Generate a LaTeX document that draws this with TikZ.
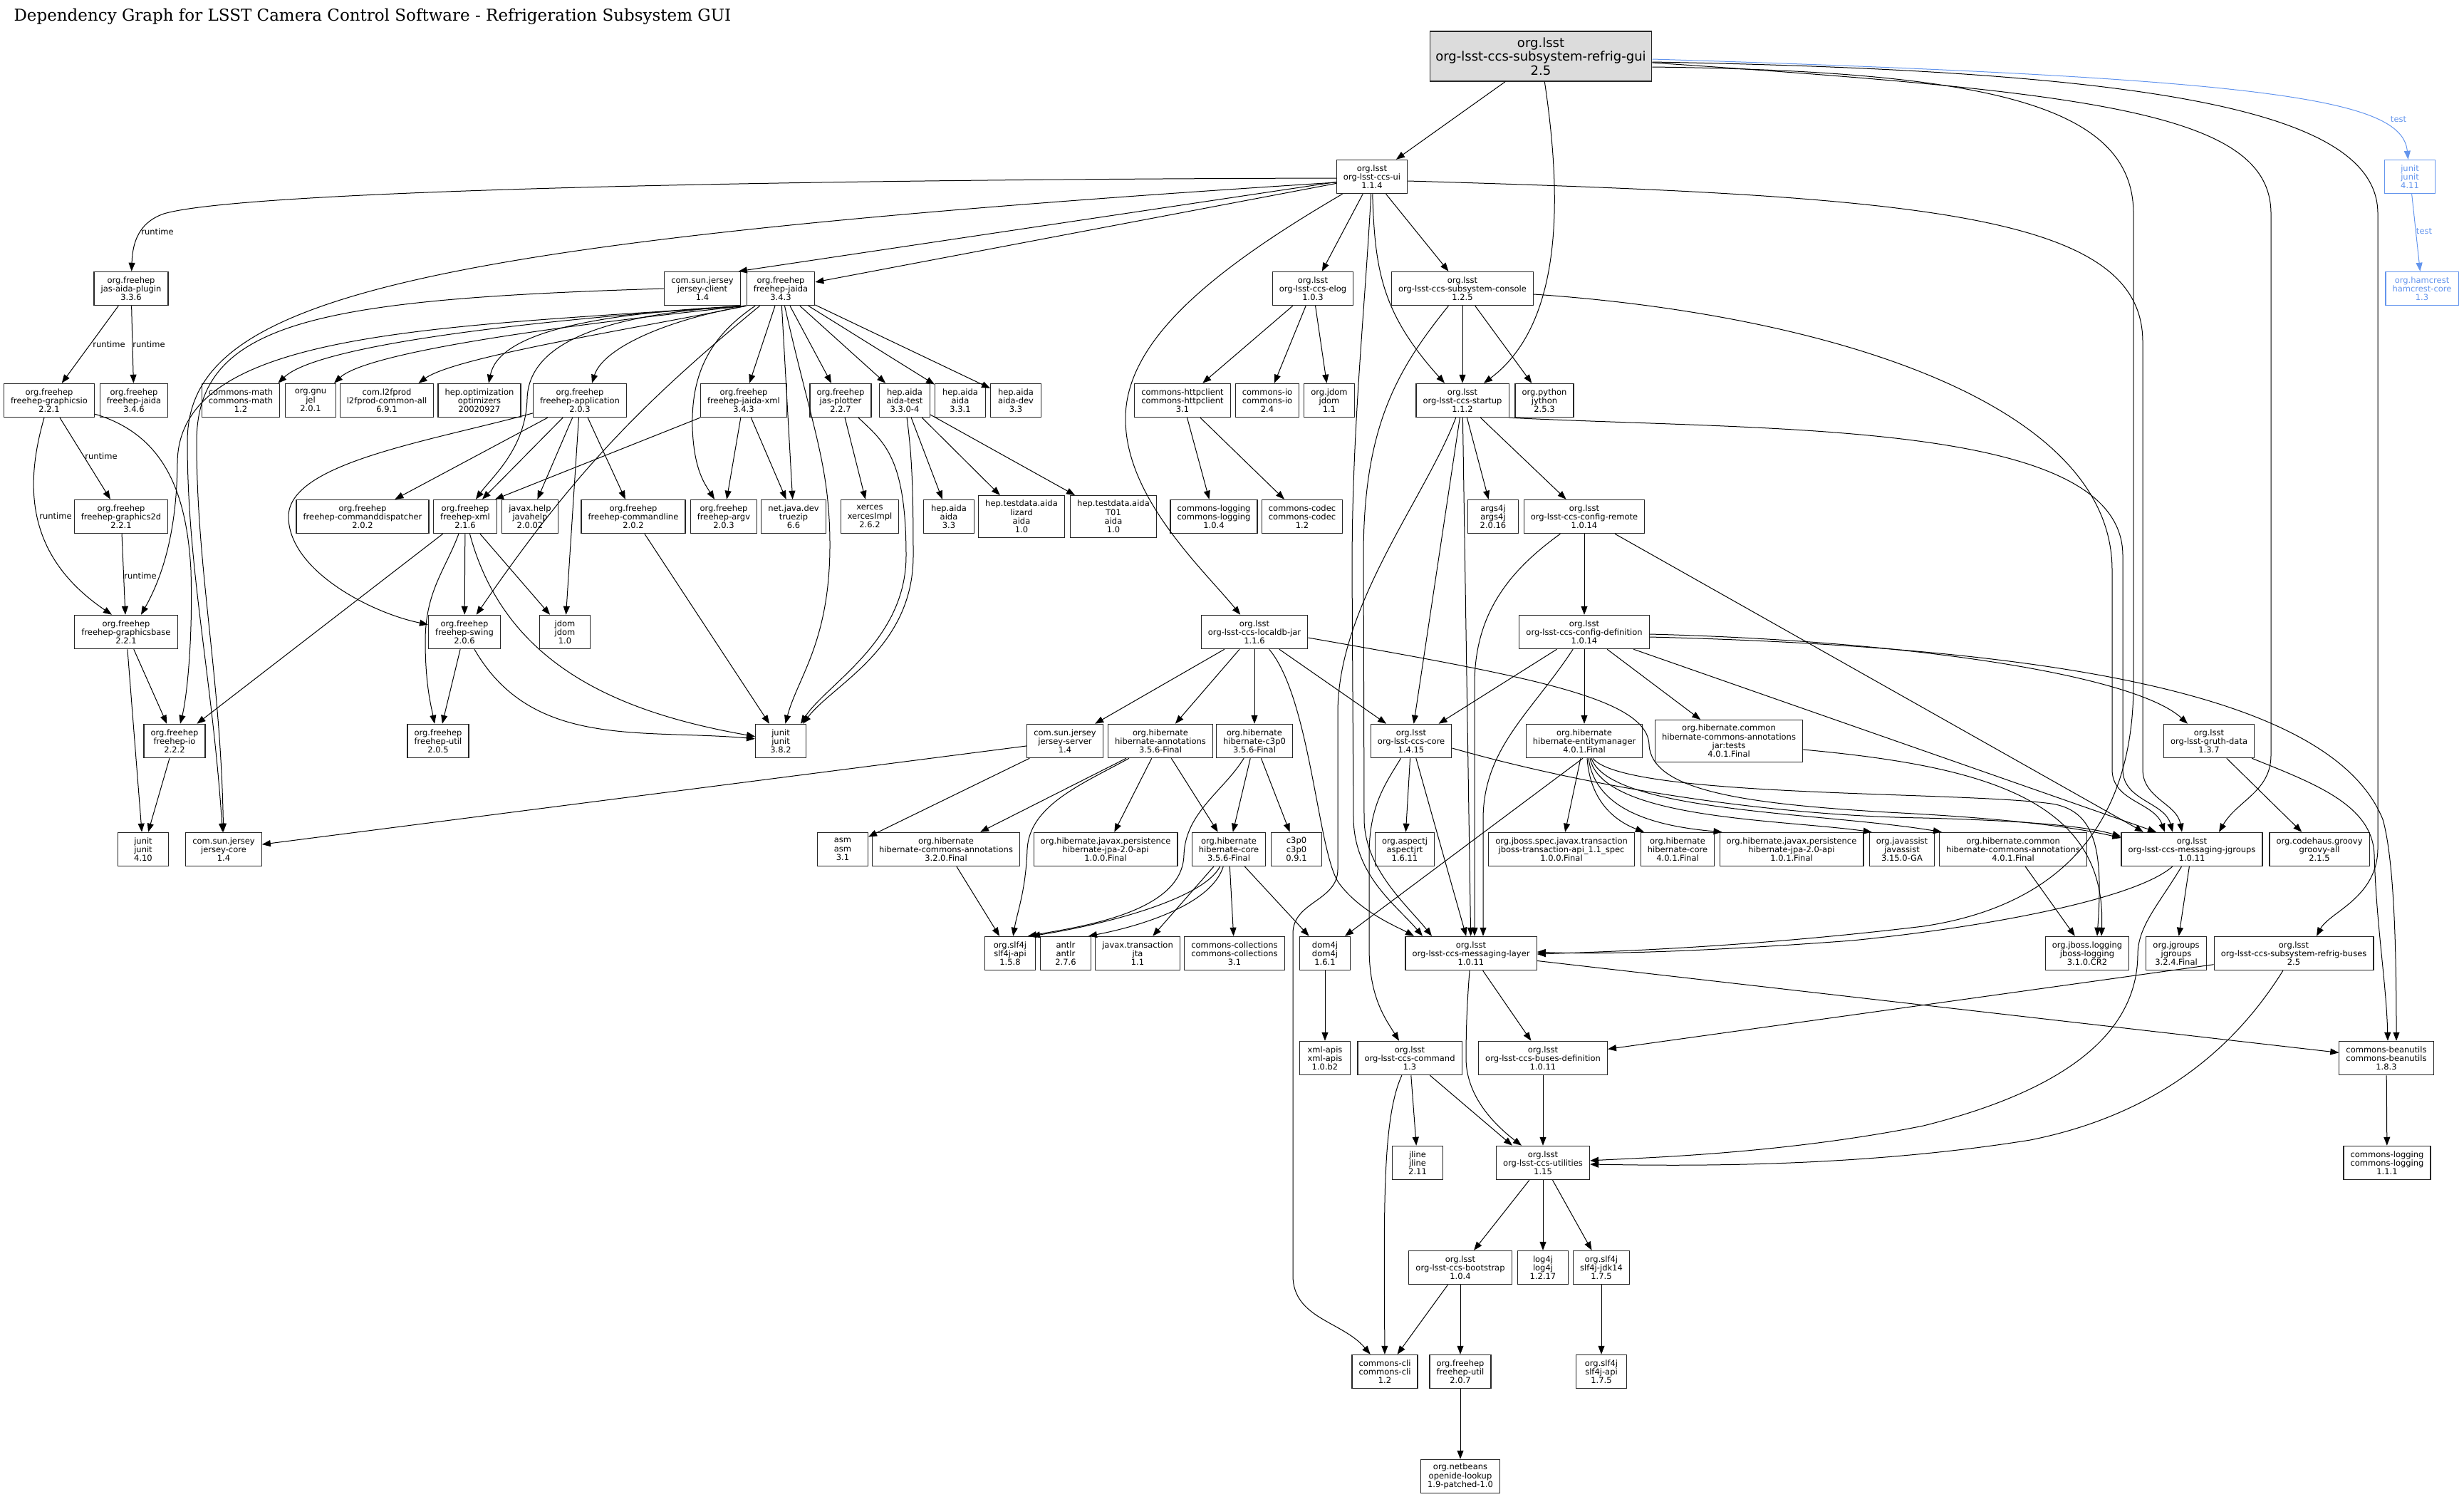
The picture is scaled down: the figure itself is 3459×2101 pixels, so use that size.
\documentclass[tikz,border=0pt]{standalone}
\usepackage{fontspec}
\setmainfont{DejaVu Sans}
\newfontfamily\titlefont{DejaVu Serif}
\usetikzlibrary{arrows.meta}
\definecolor{testblue}{RGB}{100,149,237}
\definecolor{rootgray}{RGB}{220,220,220}

\begin{document}
\begin{tikzpicture}[x=1pt, y=1pt,
    pkg/.style={draw=black!85, line width=1.2pt, align=center, minimum width=70.8pt, minimum height=47.3pt, inner xsep=9.6pt, inner ysep=2pt, font=\fontsize{11.5}{12.2}\selectfont},
    tallpkg/.style={pkg, minimum height=58.8pt},
    rootpkg/.style={pkg, fill=rootgray, minimum height=69.8pt, inner xsep=8pt, font=\fontsize{18}{19.7}\selectfont},
    testpkg/.style={pkg, draw=testblue, text=testblue},
    dep/.style={-{Triangle[length=12pt, width=9pt]}, line width=1pt},
    testdep/.style={dep, color=testblue},
    lbl/.style={inner sep=1pt, font=\fontsize{11.5}{12.2}\selectfont}]
\useasboundingbox (0,0) rectangle (3459,-2101);
\node[anchor=base west, font=\titlefont\fontsize{23}{28}\selectfont] (title) at (16,-30) {Dependency Graph for LSST Camera Control Software - Refrigeration Subsystem GUI};

\node[rootpkg] (refriggui) at (2163,-79) {org.lsst\\org-lsst-ccs-subsystem-refrig-gui\\2.5};
\node[pkg] (ccsui) at (1926,-248) {org.lsst\\org-lsst-ccs-ui\\1.1.4};
\node[testpkg] (junitnew) at (3383,-248) {junit\\junit\\4.11};
\node[pkg] (jasplugin) at (184,-405) {org.freehep\\jas-aida-plugin\\3.3.6};
\node[pkg] (jerseyclient) at (986,-405) {com.sun.jersey\\jersey-client\\1.4};
\node[pkg] (jaida) at (1096,-405) {org.freehep\\freehep-jaida\\3.4.3};
\node[pkg] (elog) at (1843,-405) {org.lsst\\org-lsst-ccs-elog\\1.0.3};
\node[pkg] (console) at (2053,-405) {org.lsst\\org-lsst-ccs-subsystem-console\\1.2.5};
\node[testpkg] (hamcrest) at (3400,-405) {org.hamcrest\\hamcrest-core\\1.3};
\node[pkg] (graphicsio) at (69,-562) {org.freehep\\freehep-graphicsio\\2.2.1};
\node[pkg] (jaidaold) at (188,-562) {org.freehep\\freehep-jaida\\3.4.6};
\node[pkg] (cmath) at (338,-562) {commons-math\\commons-math\\1.2};
\node[pkg] (jel) at (436,-562) {org.gnu\\jel\\2.0.1};
\node[pkg] (ltwofprod) at (543,-562) {com.l2fprod\\l2fprod-common-all\\6.9.1};
\node[pkg] (optimizers) at (673,-562) {hep.optimization\\optimizers\\20020927};
\node[pkg] (application) at (814,-562) {org.freehep\\freehep-application\\2.0.3};
\node[pkg] (jaidaxml) at (1044,-562) {org.freehep\\freehep-jaida-xml\\3.4.3};
\node[pkg] (plotter) at (1180,-562) {org.freehep\\jas-plotter\\2.2.7};
\node[pkg] (aidatest) at (1270,-562) {hep.aida\\aida-test\\3.3.0-4};
\node[pkg] (aidanew) at (1348,-562) {hep.aida\\aida\\3.3.1};
\node[pkg] (aidadev) at (1426,-562) {hep.aida\\aida-dev\\3.3};
\node[pkg] (httpclient) at (1660,-562) {commons-httpclient\\commons-httpclient\\3.1};
\node[pkg] (commonsio) at (1779,-562) {commons-io\\commons-io\\2.4};
\node[pkg] (jdomnew) at (1866,-562) {org.jdom\\jdom\\1.1};
\node[pkg] (startup) at (2053,-562) {org.lsst\\org-lsst-ccs-startup\\1.1.2};
\node[pkg] (jython) at (2168,-562) {org.python\\jython\\2.5.3};
\node[pkg] (graphicstwod) at (170,-725) {org.freehep\\freehep-graphics2d\\2.2.1};
\node[pkg] (dispatcher) at (509,-725) {org.freehep\\freehep-commanddispatcher\\2.0.2};
\node[pkg] (fhxml) at (653,-725) {org.freehep\\freehep-xml\\2.1.6};
\node[pkg] (javahelp) at (744,-725) {javax.help\\javahelp\\2.0.02};
\node[pkg] (commandline) at (889,-725) {org.freehep\\freehep-commandline\\2.0.2};
\node[pkg] (argv) at (1016,-725) {org.freehep\\freehep-argv\\2.0.3};
\node[pkg] (truezip) at (1114,-725) {net.java.dev\\truezip\\6.6};
\node[pkg] (xerces) at (1221,-725) {xerces\\xercesImpl\\2.6.2};
\node[pkg] (aidaold) at (1332,-725) {hep.aida\\aida\\3.3};
\node[tallpkg] (lizard) at (1434,-725) {hep.testdata.aida\\lizard\\aida\\1.0};
\node[tallpkg] (tzeroone) at (1563,-725) {hep.testdata.aida\\T01\\aida\\1.0};
\node[pkg] (loggingold) at (1704,-725) {commons-logging\\commons-logging\\1.0.4};
\node[pkg] (codec) at (1828,-725) {commons-codec\\commons-codec\\1.2};
\node[pkg] (argsfourj) at (2096,-725) {args4j\\args4j\\2.0.16};
\node[pkg] (cfgremote) at (2224,-725) {org.lsst\\org-lsst-ccs-config-remote\\1.0.14};
\node[pkg] (graphicsbase) at (177,-887) {org.freehep\\freehep-graphicsbase\\2.2.1};
\node[pkg] (swing) at (652,-887) {org.freehep\\freehep-swing\\2.0.6};
\node[pkg] (jdomold) at (793,-887) {jdom\\jdom\\1.0};
\node[pkg] (localdb) at (1761,-887) {org.lsst\\org-lsst-ccs-localdb-jar\\1.1.6};
\node[pkg] (cfgdef) at (2224,-887) {org.lsst\\org-lsst-ccs-config-definition\\1.0.14};
\node[pkg] (fhio) at (245,-1040) {org.freehep\\freehep-io\\2.2.2};
\node[pkg] (utilold) at (615,-1040) {org.freehep\\freehep-util\\2.0.5};
\node[pkg] (junitmid) at (1096,-1040) {junit\\junit\\3.8.2};
\node[pkg] (jerseyserver) at (1495,-1040) {com.sun.jersey\\jersey-server\\1.4};
\node[pkg] (hibann) at (1629,-1040) {org.hibernate\\hibernate-annotations\\3.5.6-Final};
\node[pkg] (hibcpo) at (1761,-1040) {org.hibernate\\hibernate-c3p0\\3.5.6-Final};
\node[pkg] (ccscore) at (1981,-1040) {org.lsst\\org-lsst-ccs-core\\1.4.15};
\node[pkg] (entitymgr) at (2224,-1040) {org.hibernate\\hibernate-entitymanager\\4.0.1.Final};
\node[tallpkg] (anntests) at (2427,-1040) {org.hibernate.common\\hibernate-commons-annotations\\jar:tests\\4.0.1.Final};
\node[pkg] (gruth) at (3101,-1040) {org.lsst\\org-lsst-gruth-data\\1.3.7};
\node[pkg] (junitold) at (201,-1192) {junit\\junit\\4.10};
\node[pkg] (jerseycore) at (314,-1192) {com.sun.jersey\\jersey-core\\1.4};
\node[pkg] (asm) at (1183,-1192) {asm\\asm\\3.1};
\node[pkg] (commannold) at (1328,-1192) {org.hibernate\\hibernate-commons-annotations\\3.2.0.Final};
\node[pkg] (jpaold) at (1552,-1192) {org.hibernate.javax.persistence\\hibernate-jpa-2.0-api\\1.0.0.Final};
\node[pkg] (hibcoreold) at (1725,-1192) {org.hibernate\\hibernate-core\\3.5.6-Final};
\node[pkg] (cthreepo) at (1820,-1192) {c3p0\\c3p0\\0.9.1};
\node[pkg] (aspectj) at (1972,-1192) {org.aspectj\\aspectjrt\\1.6.11};
\node[pkg] (jbossspec) at (2192,-1192) {org.jboss.spec.javax.transaction\\jboss-transaction-api\_1.1\_spec\\1.0.0.Final};
\node[pkg] (hibcorenew) at (2355,-1192) {org.hibernate\\hibernate-core\\4.0.1.Final};
\node[pkg] (jpanew) at (2515,-1192) {org.hibernate.javax.persistence\\hibernate-jpa-2.0-api\\1.0.1.Final};
\node[pkg] (javassist) at (2670,-1192) {org.javassist\\javassist\\3.15.0-GA};
\node[pkg] (commannnew) at (2826,-1192) {org.hibernate.common\\hibernate-commons-annotations\\4.0.1.Final};
\node[pkg] (msgjgroups) at (3077,-1192) {org.lsst\\org-lsst-ccs-messaging-jgroups\\1.0.11};
\node[pkg] (groovy) at (3256,-1192) {org.codehaus.groovy\\groovy-all\\2.1.5};
\node[pkg] (slfold) at (1418,-1338) {org.slf4j\\slf4j-api\\1.5.8};
\node[pkg] (antlr) at (1496,-1338) {antlr\\antlr\\2.7.6};
\node[pkg] (jta) at (1597,-1338) {javax.transaction\\jta\\1.1};
\node[pkg] (collections) at (1733,-1338) {commons-collections\\commons-collections\\3.1};
\node[pkg] (domfourj) at (1860,-1338) {dom4j\\dom4j\\1.6.1};
\node[pkg] (msglayer) at (2065,-1338) {org.lsst\\org-lsst-ccs-messaging-layer\\1.0.11};
\node[pkg] (jbosslogging) at (2930,-1338) {org.jboss.logging\\jboss-logging\\3.1.0.CR2};
\node[pkg] (jgroups) at (3055,-1338) {org.jgroups\\jgroups\\3.2.4.Final};
\node[pkg] (refrigbuses) at (3220,-1338) {org.lsst\\org-lsst-ccs-subsystem-refrig-buses\\2.5};
\node[pkg] (xmlapis) at (1860,-1485) {xml-apis\\xml-apis\\1.0.b2};
\node[pkg] (command) at (1979,-1485) {org.lsst\\org-lsst-ccs-command\\1.3};
\node[pkg] (busesdef) at (2166,-1485) {org.lsst\\org-lsst-ccs-buses-definition\\1.0.11};
\node[pkg] (beanutils) at (3350,-1485) {commons-beanutils\\commons-beanutils\\1.8.3};
\node[pkg] (jline) at (1990,-1632) {jline\\jline\\2.11};
\node[pkg] (utilities) at (2166,-1632) {org.lsst\\org-lsst-ccs-utilities\\1.15};
\node[pkg] (loggingnew) at (3351,-1632) {commons-logging\\commons-logging\\1.1.1};
\node[pkg] (bootstrap) at (2050,-1779) {org.lsst\\org-lsst-ccs-bootstrap\\1.0.4};
\node[pkg] (logfourj) at (2166,-1779) {log4j\\log4j\\1.2.17};
\node[pkg] (slfjdk) at (2248,-1779) {org.slf4j\\slf4j-jdk14\\1.7.5};
\node[pkg] (commonscli) at (1944,-1925) {commons-cli\\commons-cli\\1.2};
\node[pkg] (utilnew) at (2050,-1925) {org.freehep\\freehep-util\\2.0.7};
\node[pkg] (slfnew) at (2248,-1925) {org.slf4j\\slf4j-api\\1.7.5};
\node[pkg] (openide) at (2050,-2072) {org.netbeans\\openide-lookup\\1.9-patched-1.0};

\node[lbl] (rtplugin) at (221,-325) {runtime};
\node[lbl] (rtgraphicsio) at (153,-483) {runtime};
\node[lbl] (rtjaida) at (209,-483) {runtime};
\node[lbl] (rtgraphicstwod) at (142,-640) {runtime};
\node[lbl] (rtgraphicsbase) at (78,-724) {runtime};
\node[lbl] (rttwodbase) at (197,-808) {runtime};
\node[lbl, text=testblue] (testjunit) at (3367,-168) {test};
\node[lbl, text=testblue] (testhamcrest) at (3403,-325) {test};

\draw[dep] (refriggui) -- (ccsui);
\draw[dep] (refriggui) .. controls (2190,-260) and (2200,-450) .. ([xshift=30pt]startup.north);
\draw[dep] ([yshift=-15pt]refriggui.east) .. controls (2800,-100) and (2995,-150) .. (2995,-300) -- (2995,-960) .. controls (2995,-1150) and (2900,-1270) .. (2700,-1300) .. controls (2450,-1330) and (2250,-1336) .. ([yshift=-1pt]msglayer.east);
\draw[dep] ([yshift=-9pt]refriggui.east) .. controls (2950,-130) and (3188,-160) .. (3188,-300) -- (3188,-1060) to[out=-90, in=60] ([xshift=38pt]msgjgroups.north);
\draw[dep] ([yshift=-8pt]refriggui.east) .. controls (3050,-100) and (3338,-160) .. (3338,-300) -- (3338,-1190) .. controls (3338,-1260) and (3270,-1280) .. ([xshift=32pt]refrigbuses.north);
\draw[testdep] ([yshift=-4pt]refriggui.east) .. controls (3200,-110) and (3372,-140) .. (junitnew);
\draw[testdep] (junitnew) -- (hamcrest);

\draw[dep] ([yshift=-2pt]ccsui.west) .. controls (1000,-252) and (330,-270) .. (230,-300) .. controls (195,-312) and (186,-340) .. (jasplugin);
\draw[dep] ([yshift=-8pt]ccsui.west) .. controls (560,-340) and (263,-420) .. (263,-620) .. controls (263,-800) and (298,-950) .. (jerseycore);
\draw[dep] (ccsui) -- ([xshift=-3pt]jerseyclient.north east);
\draw[dep] (ccsui) -- (jaida);
\draw[dep] (ccsui) -- (elog);
\draw[dep] (ccsui) -- (console);
\draw[dep] (ccsui) .. controls (1930,-380) and (1940,-440) .. ([xshift=-25pt]startup.north);
\draw[dep] (ccsui) .. controls (1700,-380) and (1578,-480) .. (1580,-590) .. controls (1581,-700) and (1690,-800) .. (localdb);
\draw[dep] (ccsui) .. controls (1915,-450) and (1898,-600) .. (1898,-800) -- (1900,-1150) .. controls (1902,-1230) and (1960,-1270) .. ([xshift=-68pt]msglayer.north);
\draw[dep] ([yshift=-6pt]ccsui.east) .. controls (2700,-275) and (3008,-300) .. (3008,-480) -- (3008,-1080) to[out=-90, in=100] ([xshift=-14pt]msgjgroups.north);

\draw[dep] (jerseyclient.west) .. controls (450,-420) and (276,-450) .. (276,-620) .. controls (276,-800) and (310,-950) .. (jerseycore);

\draw[dep] (jaida.south west) .. controls (600,-460) and (250,-465) .. (249,-650) .. controls (248,-760) and (222,-820) .. ([xshift=21pt]graphicsbase.north);
\draw[dep] (jaida.south west) .. controls (800,-445) and (450,-480) .. ([xshift=-3pt]cmath.north east);
\draw[dep] (jaida.south west) .. controls (850,-450) and (520,-490) .. ([xshift=-3pt]jel.north east);
\draw[dep] (jaida.south west) .. controls (900,-460) and (640,-500) .. ([xshift=-22pt]ltwofprod.north east);
\draw[dep] (jaida.south west) .. controls (820,-440) and (700,-470) .. ([xshift=13pt]optimizers.north);
\draw[dep] (jaida.south west) .. controls (930,-450) and (846,-490) .. ([xshift=17pt]application.north);
\draw[dep] (jaida.south west) .. controls (850,-440) and (742,-480) .. (740,-560) .. controls (738,-630) and (690,-670) .. ([xshift=15pt]fhxml.north);
\draw[dep] (jaida) to[bend right=8] (swing);
\draw[dep] (jaida) -- (jaidaxml);
\draw[dep] (jaida) .. controls (1000,-470) and (970,-520) .. (972,-600) .. controls (974,-660) and (990,-680) .. ([xshift=-13pt]argv.north);
\draw[dep] (jaida) -- (truezip);
\draw[dep] (jaida) .. controls (1140,-600) and (1164,-650) .. (1165,-760) .. controls (1166,-900) and (1120,-950) .. (junitmid);
\draw[dep] (jaida) -- (plotter);
\draw[dep] (jaida) -- (aidatest);
\draw[dep] (jaida) -- (aidanew);
\draw[dep] (jaida) -- (aidadev);

\draw[dep] (jasplugin) -- (graphicsio);
\draw[dep] (jasplugin) -- (jaidaold);
\draw[dep] (graphicsio) -- (graphicstwod);
\draw[dep] (graphicsio) .. controls (35,-680) and (35,-780) .. ([xshift=-20pt]graphicsbase.north);
\draw[dep] (graphicsio) .. controls (230,-610) and (262,-690) .. (268,-800) .. controls (271,-900) and (262,-980) .. ([xshift=8pt]fhio.north);
\draw[dep] (graphicstwod) -- (graphicsbase);
\draw[dep] (graphicsbase) -- (fhio);
\draw[dep] (graphicsbase) -- (junitold);
\draw[dep] (fhio) -- (junitold);

\draw[dep] (jaidaxml) -- ([xshift=-3pt]fhxml.north east);
\draw[dep] (jaidaxml) -- (argv);
\draw[dep] (jaidaxml) -- (truezip);
\draw[dep] (application) -- (dispatcher);
\draw[dep] (application) -- (fhxml);
\draw[dep] (application) -- (javahelp);
\draw[dep] (application) -- (commandline);
\draw[dep] (application) -- (jdomold);
\draw[dep] (application) .. controls (600,-620) and (405,-650) .. (405,-725) .. controls (405,-800) and (520,-860) .. (swing);
\draw[dep] (fhxml) -- (fhio);
\draw[dep] (fhxml) .. controls (625,-800) and (597,-830) .. (597,-900) .. controls (597,-960) and (605,-990) .. (utilold);
\draw[dep] (fhxml) -- (swing);
\draw[dep] (fhxml) -- (jdomold);
\draw[dep] (fhxml) to[out=-75, in=170] (junitmid);
\draw[dep] (swing) -- (utilold);
\draw[dep] (swing) to[out=-60, in=175] (junitmid);
\draw[dep] (commandline) -- (junitmid);

\draw[dep] (plotter) -- (xerces);
\draw[dep] (plotter) .. controls (1240,-620) and (1272,-640) .. (1272,-780) .. controls (1272,-900) and (1160,-960) .. ([xshift=28pt]junitmid.north);
\draw[dep] (aidatest) .. controls (1280,-640) and (1282,-680) .. (1282,-780) .. controls (1282,-910) and (1170,-960) .. ([xshift=31pt]junitmid.north);
\draw[dep] (aidatest) -- (aidaold);
\draw[dep] (aidatest) -- (lizard);
\draw[dep] (aidatest) -- (tzeroone);

\draw[dep] (elog) -- (httpclient);
\draw[dep] (elog) -- (commonsio);
\draw[dep] (elog) -- (jdomnew);
\draw[dep] (httpclient) -- (loggingold);
\draw[dep] (httpclient) -- (codec);

\draw[dep] (console) -- (startup);
\draw[dep] (console) -- (jython);
\draw[dep] (console) .. controls (1960,-520) and (1914,-600) .. (1914,-780) -- (1915,-1150) .. controls (1916,-1220) and (1975,-1270) .. ([xshift=-55pt]msglayer.north);
\draw[dep] ([yshift=-8pt]console.east) .. controls (2550,-440) and (2965,-560) .. (2965,-800) -- (2965,-1080) to[out=-90, in=110] ([xshift=-38pt]msgjgroups.north);

\draw[dep] (startup) .. controls (2000,-700) and (1878,-850) .. (1878,-1000) -- (1878,-1220) .. controls (1878,-1265) and (1815,-1265) .. (1815,-1310) -- (1815,-1790) to[out=-90, in=130] (commonscli);
\draw[dep] (startup) -- (ccscore);
\draw[dep] (startup) -- (msglayer);
\draw[dep] (startup) -- (argsfourj);
\draw[dep] (startup) -- (cfgremote);
\draw[dep] (startup.south east) .. controls (2500,-605) and (2980,-590) .. (2980,-780) -- (2980,-1080) to[out=-90, in=105] ([xshift=-27pt]msgjgroups.north);

\draw[dep] (cfgremote) -- (cfgdef);
\draw[dep] (cfgremote) .. controls (2120,-800) and (2070,-860) .. (2070,-960) -- ([xshift=5pt]msglayer.north);
\draw[dep] (cfgremote) -- ([xshift=-68pt]msgjgroups.north);

\draw[dep] (cfgdef) -- (ccscore);
\draw[dep] (cfgdef) -- (entitymgr);
\draw[dep] (cfgdef) -- (anntests);
\draw[dep] (cfgdef) -- ([xshift=-50pt]msgjgroups.north);
\draw[dep] (cfgdef) .. controls (2150,-1000) and (2082,-1050) .. (2082,-1150) -- ([xshift=17pt]msglayer.north);
\draw[dep] ([yshift=-3pt]cfgdef.east) .. controls (2700,-900) and (3000,-950) .. ([xshift=-30pt]gruth.north);
\draw[dep] ([yshift=-7pt]cfgdef.east) .. controls (2950,-910) and (3280,-990) .. (3345,-1150) .. controls (3362,-1210) and (3364,-1350) .. ([xshift=14pt]beanutils.north);

\draw[dep] (localdb) -- (jerseyserver);
\draw[dep] (localdb) -- (hibann);
\draw[dep] (localdb) -- (hibcpo);
\draw[dep] (localdb) -- (ccscore);
\draw[dep] (localdb) .. controls (1840,-980) and (1850,-1200) .. (1880,-1240) .. controls (1910,-1280) and (1960,-1300) .. ([xshift=-80pt]msglayer.north);
\draw[dep] ([yshift=-8pt]localdb.east) .. controls (2150,-950) and (2312,-980) .. (2315,-1045) .. controls (2318,-1110) and (2450,-1128) .. (2650,-1140) .. controls (2850,-1150) and (2930,-1165) .. ([yshift=16pt]msgjgroups.west);

\draw[dep] (ccscore) .. controls (1945,-1100) and (1922,-1130) .. (1922,-1200) -- (1922,-1330) .. controls (1922,-1400) and (1945,-1430) .. (command);
\draw[dep] (ccscore) -- (aspectj);
\draw[dep] (ccscore) -- (msglayer);
\draw[dep] ([yshift=-10pt]ccscore.east) .. controls (2250,-1110) and (2500,-1145) .. (2700,-1148) .. controls (2850,-1152) and (2930,-1160) .. ([yshift=18pt]msgjgroups.west);

\draw[dep] ([xshift=-2pt]entitymgr.south) -- ([xshift=28pt]domfourj.north);
\draw[dep] (entitymgr) -- (jbossspec);
\draw[dep] ([xshift=4pt]entitymgr.south) .. controls (2232,-1120) and (2262,-1150) .. ([xshift=-47pt]hibcorenew.north);
\draw[dep] ([xshift=6pt]entitymgr.south) .. controls (2240,-1140) and (2330,-1160) .. ([xshift=4pt]jpanew.north west);
\draw[dep] ([xshift=8pt]entitymgr.south) .. controls (2250,-1150) and (2500,-1150) .. ([xshift=4pt]javassist.north west);
\draw[dep] ([xshift=10pt]entitymgr.south) .. controls (2260,-1140) and (2560,-1140) .. ([xshift=4pt]commannnew.north west);
\draw[dep] ([xshift=12pt]entitymgr.south) .. controls (2280,-1120) and (2750,-1110) .. (2880,-1128) .. controls (2945,-1138) and (2952,-1200) .. ([xshift=14pt]jbosslogging.north);
\draw[dep] ([yshift=-12pt]anntests.east) .. controls (2780,-1075) and (2958,-1120) .. ([xshift=20pt]jbosslogging.north);
\draw[dep] (commannnew) -- (jbosslogging);

\draw[dep] (jerseyserver) -- (asm);
\draw[dep] (jerseyserver) -- (jerseycore);
\draw[dep] (hibann) -- (commannold);
\draw[dep] (hibann) .. controls (1520,-1100) and (1445,-1130) .. (1442,-1192) .. controls (1440,-1250) and (1428,-1280) .. (slfold);
\draw[dep] (hibann) -- (jpaold);
\draw[dep] (hibann) -- (hibcoreold);
\draw[dep] (hibcpo) -- (hibcoreold);
\draw[dep] (hibcpo) -- (cthreepo);
\draw[dep] (hibcpo) .. controls (1718,-1110) and (1664,-1140) .. (1662,-1200) .. controls (1660,-1280) and (1520,-1300) .. ([xshift=25pt]slfold.north);
\draw[dep] (commannold) -- (slfold);
\draw[dep] (hibcoreold) .. controls (1690,-1260) and (1560,-1296) .. ([xshift=30pt]slfold.north);
\draw[dep] (hibcoreold) .. controls (1700,-1270) and (1600,-1300) .. ([xshift=-4pt]antlr.north east);
\draw[dep] (hibcoreold) -- (jta);
\draw[dep] (hibcoreold) -- (collections);
\draw[dep] (hibcoreold) -- (domfourj);
\draw[dep] (domfourj) -- (xmlapis);

\draw[dep] (msgjgroups) .. controls (3000,-1260) and (2800,-1300) .. (2600,-1320) .. controls (2400,-1335) and (2250,-1340) .. ([yshift=2pt]msglayer.east);
\draw[dep] (msgjgroups) .. controls (3030,-1270) and (3001,-1300) .. (3001,-1340) .. controls (3000,-1450) and (2900,-1530) .. (2700,-1580) .. controls (2500,-1620) and (2300,-1625) .. ([yshift=3pt]utilities.east);
\draw[dep] (msgjgroups) -- (jgroups);
\draw[dep] (gruth) -- (groovy);
\draw[dep] (gruth) .. controls (3250,-1100) and (3331,-1130) .. (3333,-1200) .. controls (3336,-1300) and (3350,-1380) .. ([xshift=2pt]beanutils.north);

\draw[dep] (msglayer) -- (busesdef);
\draw[dep] (msglayer) .. controls (2060,-1400) and (2058,-1440) .. (2058,-1485) .. controls (2058,-1540) and (2100,-1580) .. ([xshift=-30pt]utilities.north);
\draw[dep] (msglayer) -- (beanutils);
\draw[dep] (refrigbuses) -- (busesdef);
\draw[dep] (refrigbuses) .. controls (3150,-1450) and (3050,-1560) .. (2850,-1600) .. controls (2600,-1640) and (2350,-1636) .. ([yshift=-2pt]utilities.east);
\draw[dep] (busesdef) -- (utilities);
\draw[dep] (command) -- (jline);
\draw[dep] (command) -- ([xshift=-43pt]utilities.north);
\draw[dep] (command) .. controls (1940,-1570) and (1943,-1700) .. (commonscli);
\draw[dep] (utilities) -- (bootstrap);
\draw[dep] (utilities) -- (logfourj);
\draw[dep] (utilities) -- (slfjdk);
\draw[dep] (bootstrap) -- (commonscli);
\draw[dep] (bootstrap) -- (utilnew);
\draw[dep] (utilnew) -- (openide);
\draw[dep] (slfjdk) -- (slfnew);
\draw[dep] (beanutils) -- (loggingnew);
\end{tikzpicture}
\end{document}
